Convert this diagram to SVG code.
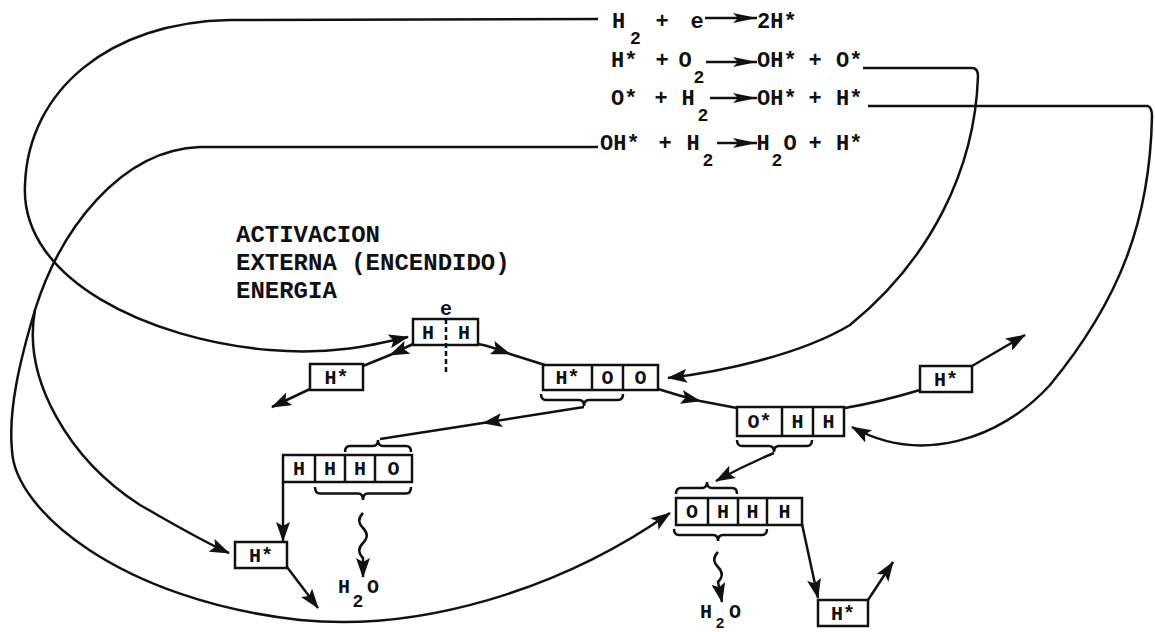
<svg xmlns="http://www.w3.org/2000/svg" width="1155" height="632" viewBox="0 0 1155 632">
<style>
.t{font-family:"Liberation Mono",monospace;font-weight:bold;fill:#111}
.eq{font-size:22px}
.sub{font-size:18px}
.lbl{font-size:24px}
.bx{font-size:20px;text-anchor:middle}
.m{text-anchor:middle}
.box{fill:none;stroke:#111;stroke-width:2.5}
.c{fill:none;stroke:#111;stroke-width:2.5}
.ca{fill:none;stroke:#111;stroke-width:2.5;marker-end:url(#ah)}
.cm{fill:none;stroke:#111;stroke-width:2.5;marker-mid:url(#ah)}
.ea{fill:none;stroke:#111;stroke-width:2.5;marker-end:url(#eh)}
</style>
<defs>
<marker id="ah" viewBox="0 0 20 14" refX="19" refY="7" markerWidth="20" markerHeight="14" markerUnits="userSpaceOnUse" orient="auto"><path d="M0,0 L20,7 L0,14 L4,7 Z" fill="#111"/></marker>
<marker id="eh" viewBox="0 0 24 10" refX="24" refY="5" markerWidth="24" markerHeight="10" markerUnits="userSpaceOnUse" orient="auto"><path d="M0,0 L24,5 L0,10 L5,5 Z" fill="#111"/></marker>
</defs>
<rect width="1155" height="632" fill="#fff"/>

<g id="equations" class="t eq">
<text x="612" y="28">H</text><text x="630" y="44" class="sub">2</text><text x="662" y="28" class="m">+</text><text x="697" y="28" class="m">e</text><text x="757" y="28">2H*</text>
<text x="611" y="67">H*</text><text x="662" y="67" class="m">+</text><text x="685" y="67" class="m">O</text><text x="699" y="83" class="sub m">2</text><text x="757" y="67">OH*</text><text x="815" y="67" class="m">+</text><text x="836" y="67">O*</text>
<text x="611" y="105">O*</text><text x="661" y="105" class="m">+</text><text x="688" y="105" class="m">H</text><text x="703" y="121" class="sub m">2</text><text x="757" y="105">OH*</text><text x="815" y="105" class="m">+</text><text x="836" y="105">H*</text>
<text x="600" y="150">OH*</text><text x="665" y="150" class="m">+</text><text x="693" y="150" class="m">H</text><text x="708" y="166" class="sub m">2</text><text x="763" y="150" class="m">H</text><text x="777" y="166" class="sub m">2</text><text x="790" y="150" class="m">O</text><text x="815" y="150" class="m">+</text><text x="836" y="150">H*</text>
</g>
<g id="eq-arrows">
<path class="ea" d="M705,18 L757,18"/>
<path class="ea" d="M706,62 L757,62"/>
<path class="ea" d="M710,98 L757,98"/>
<path class="ea" d="M717,143 L757,143"/>
</g>

<g id="label" class="t lbl">
<text x="236" y="242">ACTIVACION</text>
<text x="236" y="270">EXTERNA (ENCENDIDO)</text>
<text x="236" y="298">ENERGIA</text>
</g>

<g id="connectors">
<path class="ca" d="M598,19 L230,20 C110,22 28,90 25,185 C20,280 150,340 270,350 C330,355 370,346 408,337"/>
<path class="ca" d="M598,147 L200,147 C120,150 60,230 35,310 C20,360 8,410 12,450 C14,510 120,600 300,620 C420,632 560,590 670,513"/>
<path class="ca" d="M35,310 C22,380 70,460 140,505 C170,522 200,540 229,553"/>
<path class="ca" d="M863,68 L972,68 Q978,68 978,76 C975,170 930,260 850,325 C800,355 720,372 668,378"/>
<path class="ca" d="M868,106 L1148,106 Q1152,108 1152,116 C1150,220 1120,300 1050,385 C1000,440 920,465 852,427"/>
<path class="cm" d="M413,344 L390,355 L363,366"/>
<path class="ca" d="M310,389 L272,407"/>
<path class="cm" d="M478,344 C490,346 500,350 510,354 L545,365"/>
<path class="cm" d="M658,389 Q680,396 700,401 L737,408"/>
<path class="c" d="M845,408 Q880,402 920,390"/>
<path class="ca" d="M972,366 L1025,335"/>
<path class="cm" d="M584,407 L483,423 L380,439"/>
<path class="ca" d="M774,453 Q745,465 716,481"/>
<path class="ca" d="M802,524 L818,598"/>
<path class="ca" d="M868,600 L893,562"/>
<path class="ca" d="M283,482 L283,541"/>
<path class="ca" d="M287,567 L318,608"/>
<path class="ca" d="M363,513 c-5,5 -5,10 0,15 s5,10 0,15 s-5,10 0,15 L363,577"/>
<path class="ca" d="M718,552 c-5,5 -5,10 0,15 s5,10 0,15 L722,602"/>
<path class="c" d="M446,319 L446,372" stroke-dasharray="5 3"/>
</g>

<g id="braces" class="c">
<path d="M541,394 Q541,400 546,400 L579,400 Q584,400 584,406 Q584,400 589,400 L618,400 Q623,400 623,394"/>
<path d="M345,452 Q345,446 350,446 L373,446 Q378,446 378,440 Q378,446 383,446 L406,446 Q411,446 411,452"/>
<path d="M315,487 Q315,493.5 320,493.5 L358,493.5 Q363,493.5 363,500 Q363,493.5 368,493.5 L406,493.5 Q411,493.5 411,487"/>
<path d="M737,440 Q737,446 742,446 L769,446 Q774,446 774,452 Q774,446 779,446 L807,446 Q812,446 812,440"/>
<path d="M676,494 Q676,488 681,488 L702,488 Q707,488 707,482 Q707,488 712,488 L732,488 Q737,488 737,494"/>
<path d="M674,529 Q674,535 679,535 L713,535 Q718,535 718,541 Q718,535 723,535 L762,535 Q767,535 767,529"/>
</g>

<g id="n-hh" class="t bx">
<rect class="box" x="413" y="319" width="65" height="26"/>
<text x="428" y="339">H</text><text x="464" y="339">H</text>
<text x="446" y="315">e</text>
</g>
<g id="n-h-left" class="t bx">
<rect class="box" x="310" y="364" width="53" height="26"/>
<text x="336.5" y="384">H*</text>
</g>
<g id="n-hoo" class="t bx">
<rect class="box" x="543" y="365" width="115" height="25"/>
<path class="box" d="M592,365 V390 M623,365 V390"/>
<text x="567.5" y="384">H*</text><text x="607.5" y="384">O</text><text x="640.5" y="384">O</text>
</g>
<g id="n-ohh" class="t bx">
<rect class="box" x="737" y="407" width="107" height="29"/>
<path class="box" d="M782,407 V436 M813,407 V436"/>
<text x="759.5" y="428">O*</text><text x="797.5" y="428">H</text><text x="828.5" y="428">H</text>
</g>
<g id="n-h-right" class="t bx">
<rect class="box" x="920" y="366" width="52" height="26"/>
<text x="946" y="386">H*</text>
</g>
<g id="n-hhho" class="t bx">
<rect class="box" x="283" y="455" width="129" height="27"/>
<path class="box" d="M315,455 V482 M345,455 V482 M375,455 V482"/>
<text x="299" y="475">H</text><text x="330" y="475">H</text><text x="360" y="475">H</text><text x="393.5" y="475">O</text>
</g>
<g id="n-ohhh" class="t bx">
<rect class="box" x="676" y="498" width="126" height="27"/>
<path class="box" d="M708,498 V525 M738,498 V525 M767,498 V525"/>
<text x="692" y="518">O</text><text x="723" y="518">H</text><text x="752.5" y="518">H</text><text x="784.5" y="518">H</text>
</g>
<g id="n-h-ll" class="t bx">
<rect class="box" x="235" y="542" width="52" height="26"/>
<text x="261" y="562">H*</text>
</g>
<g id="n-h-lr" class="t bx">
<rect class="box" x="818" y="600" width="50" height="26"/>
<text x="843" y="620">H*</text>
</g>
<g id="h2o-left" class="t bx">
<text x="344" y="593">H</text><text x="358" y="607" class="sub">2</text><text x="373" y="593">O</text>
</g>
<g id="h2o-bottom" class="t bx">
<text x="706" y="618">H</text><text x="720" y="628" style="font-size:15px">2</text><text x="735" y="618">O</text>
</g>
</svg>
